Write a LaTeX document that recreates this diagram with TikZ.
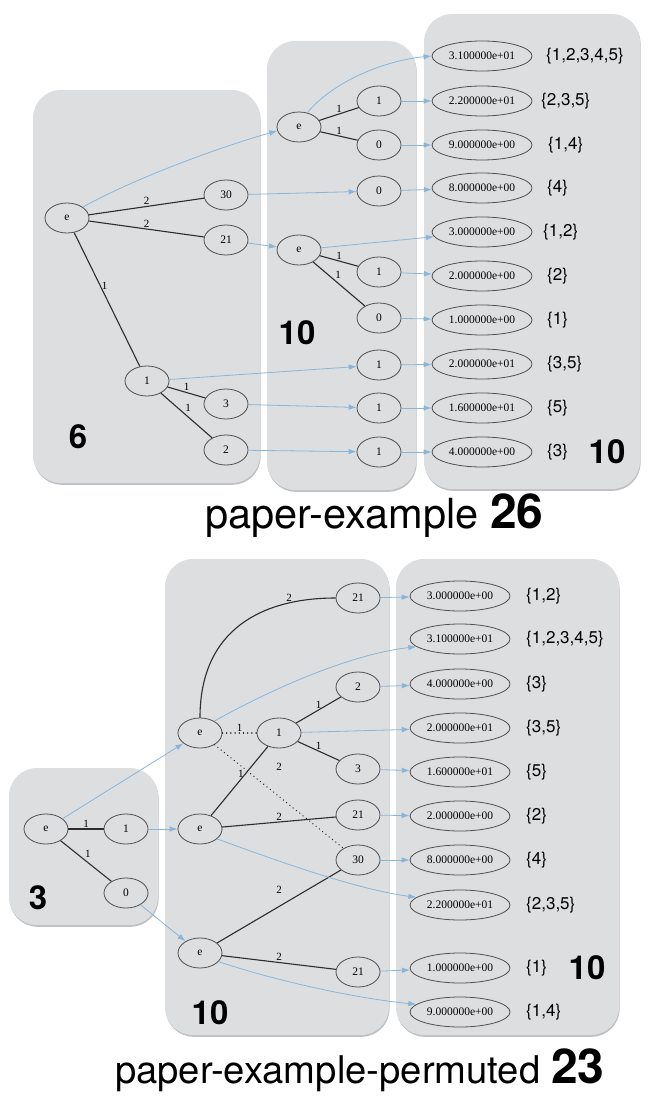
\documentclass[tikz,border=0pt]{standalone}
\usepackage{fontspec}
\setmainfont{Liberation Serif}
\setsansfont{TeX Gyre Heros}
\usetikzlibrary{shapes.geometric, arrows.meta}

\definecolor{panelgray}{RGB}{221,222,224}
\definecolor{panelshade}{RGB}{192,193,196}
\definecolor{linkblue}{RGB}{135,182,218}
\definecolor{tiegray}{RGB}{45,45,45}
\definecolor{ringgray}{RGB}{80,80,80}

\begin{document}
\begin{tikzpicture}[
			x=1pt, y=-1pt,
			panel/.style={fill=panelgray, rounded corners=28pt},
			panelsh/.style={fill=panelshade, rounded corners=28pt},
			stnode/.style={
				ellipse,
				draw=ringgray,
				line width=0.8pt,
				minimum width=44pt,
				minimum height=30pt,
				inner sep=0pt,
				font=\fontsize{11.5}{13}\selectfont
			},
			valnode/.style={stnode, minimum width=100pt},
			lbl/.style={inner sep=1pt, font=\fontsize{11}{12}\selectfont},
			tie/.style={draw=tiegray, line width=1.1pt},
			dots/.style={tie, line cap=round, dash pattern=on 0.2pt off 4pt, line width=1.3pt},
			flow/.style={-{Latex[length=8pt, width=5.5pt]}, draw=linkblue, line width=0.8pt},
			setlbl/.style={anchor=west, inner sep=0pt, font=\sffamily\fontsize{17}{20}\selectfont},
			bignum/.style={inner sep=0pt, font=\sffamily\bfseries\fontsize{33}{36}\selectfont},
			title/.style={anchor=base west, inner sep=0pt, font=\sffamily\fontsize{41.5}{44}\selectfont}
			]
			
			\useasboundingbox (0,0) rectangle (656,1107);
			
			\foreach \xa/\ya/\xb/\yb in {33/90/260/483, 267/41/416/490, 424/14/640/489,
				9/768/158/925, 165/559/389/1035, 396/559/619/1035} {
				\fill [panelsh] (\xa+0.6,\ya+1.8) rectangle (\xb+0.6,\yb+1.8);
				\fill [panel] (\xa,\ya) rectangle (\xb,\yb);
			}
			
			\node (pe) [stnode] at (67,218) {e};
			\node (p30) [stnode] at (226,195) {30};
			\node (p21) [stnode] at (226,240) {21};
			\node (p1) [stnode] at (147,381) {1};
			\node (p3) [stnode] at (226,404) {3};
			\node (p2) [stnode] at (226,450) {2};
			
			\node (qe1) [stnode] at (299,127) {e};
			\node (q11) [stnode] at (379,101) {1};
			\node (q10) [stnode] at (379,145) {0};
			\node (q30) [stnode] at (379,191) {0};
			\node (qe2) [stnode] at (299,250) {e};
			\node (q21) [stnode] at (379,272) {1};
			\node (q20) [stnode] at (379,318) {0};
			\node (q1) [stnode] at (379,365) {1};
			\node (q3) [stnode] at (379,408) {1};
			\node (q2) [stnode] at (379,452) {1};
			
			\node (v31) [valnode] at (482,56) {3.100000e+01};
			\node (v22) [valnode] at (482,101) {2.200000e+01};
			\node (v9) [valnode] at (482,145) {9.000000e+00};
			\node (v8) [valnode] at (482,188) {8.000000e+00};
			\node (v3) [valnode] at (482,232) {3.000000e+00};
			\node (v2) [valnode] at (482,276) {2.000000e+00};
			\node (v1) [valnode] at (482,320) {1.000000e+00};
			\node (v20) [valnode] at (482,364) {2.000000e+01};
			\node (v16) [valnode] at (482,408) {1.600000e+01};
			\node (v4) [valnode] at (482,452) {4.000000e+00};
			
			\node (s31) [setlbl] at (546,56) {\{1,2,3,4,5\}};
			\node (s22) [setlbl] at (541,101) {\{2,3,5\}};
			\node (s9) [setlbl] at (548,145) {\{1,4\}};
			\node (s8) [setlbl] at (547,188) {\{4\}};
			\node (s3) [setlbl] at (543,232) {\{1,2\}};
			\node (s2) [setlbl] at (547,276) {\{2\}};
			\node (s1) [setlbl] at (547,320) {\{1\}};
			\node (s20) [setlbl] at (547,364) {\{3,5\}};
			\node (s16) [setlbl] at (547,408) {\{5\}};
			\node (s4) [setlbl] at (547,452) {\{3\}};
			
			\draw [tie] (pe) -- node[lbl, above] {2} (p30);
			\draw [tie] (pe) -- node[lbl, above] {2} (p21);
			\draw [tie] (pe) -- node[lbl, pos=0.4, right] {1} (p1);
			\draw [tie] (p1) -- node[lbl, above] {1} (p3);
			\draw [tie] (p1) -- node[lbl, pos=0.45, above right] {1} (p2);
			\draw [tie] (qe1) -- node[lbl, above] {1} (q11);
			\draw [tie] (qe1) -- node[lbl, above] {1} (q10);
			\draw [tie] (qe2) -- node[lbl, above] {1} (q21);
			\draw [tie] (qe2) -- node[lbl, pos=0.4, above right] {1} (q20);
			
			\draw [flow] (pe.north east) .. controls +(50,-28) and +(-60,17) .. (qe1.190);
			\draw [flow] (p30) -- (q30);
			\draw [flow] (p21) -- (qe2);
			\draw [flow] (p1) -- (q1);
			\draw [flow] (p3) -- (q3);
			\draw [flow] (p2) -- (q2);
			\draw [flow] (qe1.60) .. controls +(25,-30) and +(-50,5) .. (v31.west);
			\draw [flow] (q11) -- (v22);
			\draw [flow] (q10) -- (v9);
			\draw [flow] (q30) -- (v8);
			\draw [flow] (qe2) -- (v3);
			\draw [flow] (q21) -- (v2);
			\draw [flow] (q20) -- (v1);
			\draw [flow] (q1) -- (v20);
			\draw [flow] (q3) -- (v16);
			\draw [flow] (q2) -- (v4);
			
			\node (n6) [bignum] at (78,437) {6};
			\node (n10a) [bignum] at (297,333) {10};
			\node (n10b) [bignum] at (607,452) {10};
			\node (ttop) [title] at (205,528) {paper-example {\bfseries\fontsize{48}{50}\selectfont 26}};
			
			\node (ae) [stnode] at (46,829) {e};
			\node (a1) [stnode] at (126,829) {1};
			\node (a0) [stnode] at (126,893) {0};
			
			\node (be1) [stnode] at (200,733) {e};
			\node (b1) [stnode] at (279,733) {1};
			\node (b21a) [stnode] at (358,598) {21};
			\node (b2) [stnode] at (358,687) {2};
			\node (b3) [stnode] at (358,769) {3};
			\node (be2) [stnode] at (200,829) {e};
			\node (b21b) [stnode] at (358,815) {21};
			\node (b30) [stnode] at (358,860) {30};
			\node (be3) [stnode] at (200,953) {e};
			\node (b21c) [stnode] at (358,972) {21};
			
			\node (w3) [valnode] at (460,596) {3.000000e+00};
			\node (w31) [valnode] at (460,639) {3.100000e+01};
			\node (w4) [valnode] at (460,684) {4.000000e+00};
			\node (w20) [valnode] at (460,728) {2.000000e+01};
			\node (w16) [valnode] at (460,772) {1.600000e+01};
			\node (w2) [valnode] at (460,816) {2.000000e+00};
			\node (w8) [valnode] at (460,860) {8.000000e+00};
			\node (w22) [valnode] at (460,905) {2.200000e+01};
			\node (w1) [valnode] at (460,968) {1.000000e+00};
			\node (w9) [valnode] at (460,1012) {9.000000e+00};
			
			\node (z3) [setlbl] at (526,596) {\{1,2\}};
			\node (z31) [setlbl] at (526,639) {\{1,2,3,4,5\}};
			\node (z4) [setlbl] at (526,684) {\{3\}};
			\node (z20) [setlbl] at (526,728) {\{3,5\}};
			\node (z16) [setlbl] at (526,772) {\{5\}};
			\node (z2) [setlbl] at (526,816) {\{2\}};
			\node (z8) [setlbl] at (526,860) {\{4\}};
			\node (z22) [setlbl] at (526,905) {\{2,3,5\}};
			\node (z1) [setlbl] at (526,968) {\{1\}};
			\node (z9) [setlbl] at (526,1012) {\{1,4\}};
			
			\draw [tie] (ae) -- node[lbl, above] {1} (a1);
			\draw [tie] (ae) -- node[lbl, pos=0.45, above right] {1} (a0);
			\draw [tie] (be1.north) .. controls +(0,-88) and +(-96,0) .. node[lbl, pos=0.78, above] {2} (b21a);
			\draw [dots] (be1) -- node[lbl, above] {1} (b1);
			\draw [dots] (be1) -- node[lbl, above=24pt] {2} (b30);
			\draw [tie] (b1) -- node[lbl, above] {1} (b2);
			\draw [tie] (b1) -- node[lbl, above] {1} (b3);
			\draw [tie] (be2) -- node[lbl, pos=0.6, left] {1} (b1);
			\draw [tie] (be2) -- node[lbl, above] {2} (b21b);
			\draw [tie] (be3) -- node[lbl, above=11pt] {2} (b30);
			\draw [tie] (be3) -- node[lbl, above] {2} (b21c);
			
			\draw [flow] (ae) -- (be1);
			\draw [flow] (a1) -- (be2);
			\draw [flow] (a0) -- (be3);
			\draw [flow] (b21a) -- (w3);
			\draw [flow] (be1.40) .. controls +(50,-28) and +(-70,8) .. (w31.190);
			\draw [flow] (b2) -- (w4);
			\draw [flow] (b1) -- (w20);
			\draw [flow] (b3) -- (w16);
			\draw [flow] (b21b) -- (w2);
			\draw [flow] (b30) -- (w8);
			\draw [flow] (be2.-30) .. controls +(60,22) and +(-60,-8) .. (w22.170);
			\draw [flow] (b21c) -- (w1);
			\draw [flow] (be3.-25) .. controls +(60,20) and +(-60,-6) .. (w9.170);
			
			\node (n3) [bignum] at (38,898) {3};
			\node (n10c) [bignum] at (210,1013) {10};
			\node (n10d) [bignum] at (587,968) {10};
			\node (tbot) [title, font=\sffamily\fontsize{38.2}{41}\selectfont] at (115,1083) {paper-example-permuted {\bfseries\fontsize{48}{50}\selectfont 23}};
			
		\end{tikzpicture}
\end{document}
